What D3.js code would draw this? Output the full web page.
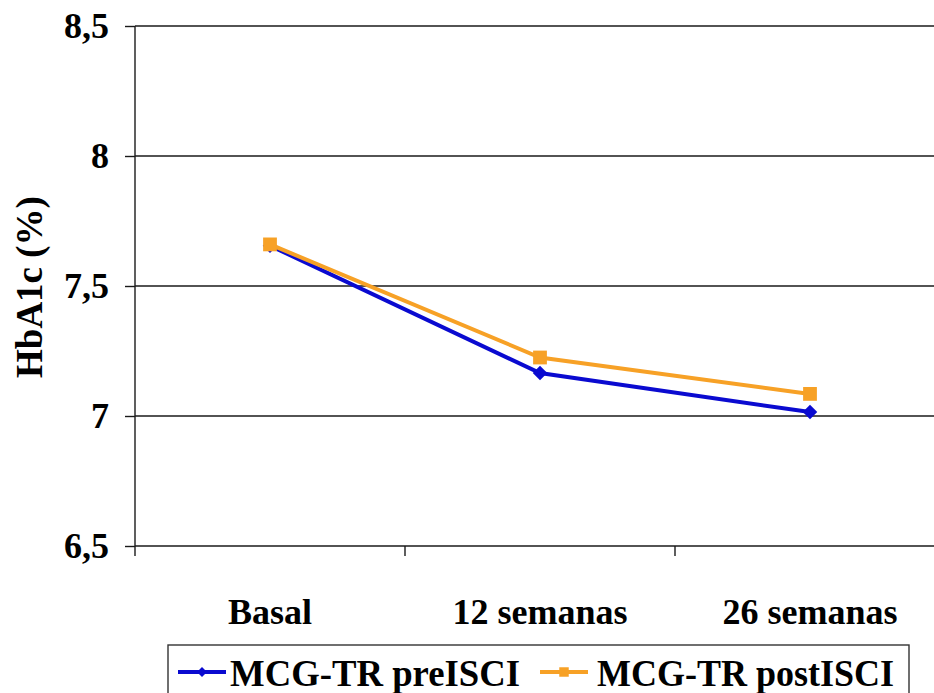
<!DOCTYPE html>
<html>
<head>
<meta charset="utf-8">
<script src="https://cdn.jsdelivr.net/npm/d3@7"></script>
<style>
  html, body { margin:0; padding:0; background:#fff; overflow:hidden; }
  svg { display:block; font-family:"Liberation Serif","Times New Roman",serif; font-weight:bold; }
</style>
</head>
<body>
<svg id="chart" width="934" height="693"></svg>
<script>
// --- Data ---
const categories = ["Basal", "12 semanas", "26 semanas"];
const preISCI  = [7.655, 7.165, 7.015];
const postISCI = [7.66, 7.225, 7.085];
const yTicks = [6.5, 7, 7.5, 8, 8.5];
const seriesNames = ["MCG-TR preISCI", "MCG-TR postISCI"];

const fmt = v => String(v).replace(".", ",");

// --- Layout ---
const W = 934, H = 693;
const M = {l:135, t:26, r:-11, b:147};   // plot runs a bit past the right edge
const innerW = W - M.l - M.r, innerH = H - M.t - M.b;

const svg = d3.select("#chart");
const g = svg.append("g").attr("transform", `translate(${M.l},${M.t})`);

const x = d3.scaleBand().domain(categories).range([0, innerW]);
const y = d3.scaleLinear().domain([6.5, 8.5]).range([innerH, 0]);

// gridlines
g.selectAll(".grid").data(yTicks).enter().append("line")
  .attr("x1", 0).attr("x2", innerW)
  .attr("y1", d => y(d)).attr("y2", d => y(d))
  .attr("stroke", "#1a1a1a").attr("stroke-width", 1.6);

// y axis
const gy = g.append("g").call(d3.axisLeft(y).tickValues(yTicks).tickFormat(fmt).tickSize(10).tickPadding(16));
gy.select(".domain").attr("stroke", "#1a1a1a").attr("stroke-width", 1.4).attr("d", `M0,${innerH + 10}V0`);
gy.selectAll(".tick line").attr("stroke", "#1a1a1a").attr("stroke-width", 1.4);
gy.selectAll(".tick text").attr("font-size", 36).attr("fill", "#000")
  .attr("font-family", "Liberation Serif, serif").attr("font-weight", "bold").attr("dy", "0.33em");

// x axis
const gx = g.append("g").attr("transform", `translate(0,${innerH})`)
  .call(d3.axisBottom(x).tickSize(0).tickPadding(52));
gx.select(".domain").remove();
gx.selectAll(".tick text").attr("font-size", 36).attr("fill", "#000")
  .attr("font-family", "Liberation Serif, serif").attr("font-weight", "bold");
// category boundary ticks
g.selectAll(".xtick").data(categories.slice(1)).enter().append("line")
  .attr("x1", d => x(d)).attr("x2", d => x(d))
  .attr("y1", innerH).attr("y2", innerH + 10)
  .attr("stroke", "#1a1a1a").attr("stroke-width", 1.4);

// y title
svg.append("text")
  .attr("transform", "translate(42,287) rotate(-90)")
  .attr("text-anchor", "middle")
  .attr("font-size", 37).attr("fill", "#000")
  .text("HbA1c (%)");

// --- Lines ---
const colors = ["#0a0ad0", "#f7a126"];
const cx = d => x(d) + x.bandwidth() / 2;
const line = d3.line().x((d, i) => cx(categories[i])).y(d => y(d));
// diamond = square turned 45deg, a bit wider than d3's diamond
const marker = (k, size) => d3.symbol().type(d3.symbolSquare).size(size)();
const rot = k => k === 0 ? " rotate(45)" : "";

[preISCI, postISCI].forEach((vals, k) => {
  g.append("path").datum(vals)
    .attr("fill", "none").attr("stroke", colors[k]).attr("stroke-width", 4)
    .attr("d", line);
  g.selectAll(".m" + k).data(vals).enter().append("path")
    .attr("transform", (d, i) => `translate(${cx(categories[i])},${y(d)})${rot(k)}`)
    .attr("d", marker(k, k === 0 ? 105 : 190))
    .attr("fill", colors[k]);
});

// --- Legend ---
const leg = svg.append("g");
leg.append("rect").attr("x", 168).attr("y", 645).attr("width", 741).attr("height", 60)
  .attr("fill", "#fff").attr("stroke", "#333").attr("stroke-width", 1.4);
const legItems = [{x:178, tx:230}, {x:540, tx:597}];
legItems.forEach((it, k) => {
  leg.append("line").attr("x1", it.x).attr("x2", it.x + 48).attr("y1", 672).attr("y2", 672)
    .attr("stroke", colors[k]).attr("stroke-width", 4);
  leg.append("path").attr("transform", `translate(${it.x + 24},672)${rot(k)}`)
    .attr("d", marker(k, k === 0 ? 50 : 90))
    .attr("fill", colors[k]);
  leg.append("text").attr("x", it.tx).attr("y", 686)
    .attr("font-size", 38).attr("fill", "#000")
    .attr("textLength", k === 0 ? 290 : 297).attr("lengthAdjust", "spacingAndGlyphs")
    .text(seriesNames[k]);
});
</script>
</body>
</html>
